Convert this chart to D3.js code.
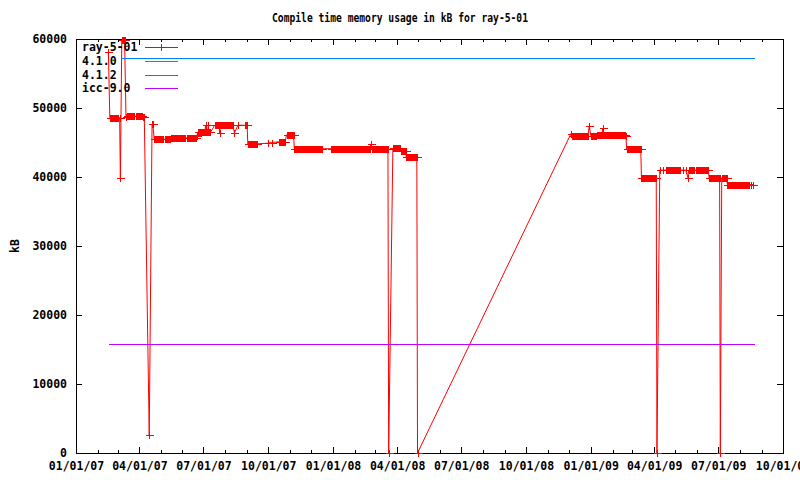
<!DOCTYPE html>
<html><head><meta charset="utf-8">
<script src="https://cdn.jsdelivr.net/npm/d3@7"></script>
<style>body{margin:0;background:#fff}svg{display:block}</style>
</head><body><svg id="c" width="800" height="480"></svg>
<script>
const chartTitle = "Compile time memory usage in kB for ray-5-01";
const yAxisLabel = "kB";
const seriesNames = ["ray-5-01", "4.1.0", "4.1.2", "icc-9.0"];
const seriesColors = ["#ff0000", "#00c000", "#0080ff", "#c000ff"];
const xDomain = ["2007-01-01", "2009-10-01"];
const yTicks = [0, 10000, 20000, 30000, 40000, 50000, 60000];

// ray-5-01: daily observations, stored as runs of consecutive days with the same value
const rayRunStart = ["2007-02-16","2007-02-18","2007-03-04","2007-03-05","2007-03-07","2007-03-09","2007-03-13","2007-03-14","2007-03-27",
  "2007-04-06","2007-04-15","2007-04-19","2007-04-22","2007-05-07","2007-05-16","2007-06-07","2007-06-22","2007-06-23",
  "2007-07-04","2007-07-05","2007-07-08","2007-07-09","2007-07-17","2007-07-24","2007-07-25","2007-08-14","2007-08-19","2007-08-29",
  "2007-09-02","2007-09-30","2007-10-06","2007-10-16","2007-10-27","2007-11-07","2007-12-29","2008-02-24","2008-02-25","2008-03-20",
  "2008-03-26","2008-04-06","2008-04-14","2008-04-30","2008-12-04","2008-12-05","2008-12-30","2009-01-01","2009-01-10",
  "2009-01-18","2009-01-19","2009-02-20","2009-02-21","2009-03-14","2009-04-05","2009-04-09","2009-04-13",
  "2009-04-18","2009-05-12","2009-05-16","2009-05-19","2009-05-20","2009-05-30","2009-06-18","2009-07-04","2009-07-06",
  "2009-07-14","2009-08-17","2009-08-20"];
const rayRunDays = [1,13,1,1,2,3,1,12,10,
  3,1,2,13,8,21,14,1,11,
  1,3,1,3,7,1,19,1,1,4,
  14,1,1,10,11,41,56,1,24,1,
  11,8,16,1,1,24,1,8,8,
  1,32,1,21,22,1,1,1,
  21,1,1,1,9,19,16,1,8,
  32,1,1];
const rayRunValue = [58100,48600,48600,39800,59800,59900,48700,48800,48800,
  48700,2600,47700,45500,45500,45700,45700,46000,46500,
  47500,46500,47500,46500,47500,46400,47500,46400,47500,47500,
  44800,44900,45000,45100,46100,44100,44100,44800,44100,0,
  44200,43800,42900,0,46300,46000,47400,46000,46100,
  47100,46100,46000,44000,39900,0,41000,41000,
  41000,41000,41000,39900,41000,41000,39900,0,39900,
  38900,38900,38900];

// Reference compilers: constant lines
const gcc410Dates = ["2007-03-06", "2009-08-22"];
const gcc410Values = [57200, 57200];
const gcc412Dates = ["2007-03-06", "2009-08-22"];
const gcc412Values = [57200, 57200];
const icc90Dates = ["2007-02-17", "2009-08-22"];
const icc90Values = [15800, 15800];

const parse = d3.utcParse("%Y-%m-%d");
const rayData = [];
rayRunStart.forEach((s, i) => {
  const start = parse(s);
  for (let k = 0; k < rayRunDays[i]; k++) {
    rayData.push({date: d3.utcDay.offset(start, k), value: rayRunValue[i]});
  }
});
const toPts = (ds, vs) => ds.map((d, i) => ({date: parse(d), value: vs[i]}));

const L = 76, R = 783, T = 39, B = 453;
const x = d3.scaleUtc().domain(xDomain.map(parse)).range([L, R]);
const y = d3.scaleLinear().domain([0, 60000]).range([B, T]);

const svg = d3.select("#c");
const font = "'DejaVu Sans Mono', 'Liberation Mono', monospace";

svg.append("text").attr("x", 400).attr("y", 18).attr("text-anchor", "middle")
  .attr("dominant-baseline", "middle").attr("font-family", font).attr("font-size", "12px")
  .attr("font-weight", "bold").attr("textLength", 256).attr("lengthAdjust", "spacingAndGlyphs").text(chartTitle);
svg.append("text").attr("transform", "translate(15,246) rotate(-90)").attr("text-anchor", "middle")
  .attr("dominant-baseline", "middle").attr("font-family", font).attr("font-size", "11.5px")
  .attr("font-weight", "bold").text(yAxisLabel);

const majorX = d3.utcMonth.every(3).range(parse("2007-01-01"), d3.utcDay.offset(parse("2009-10-01"), 1));
const minorX = d3.utcMonth.range(parse("2007-01-01"), parse("2009-10-02")).filter(d => d.getUTCMonth() % 3 !== 0);
const fmt = d3.utcFormat("%m/%d/%y");

function styleAxis(g, labels) {
  g.select(".domain").remove();
  g.selectAll("line").attr("stroke", "#000").attr("shape-rendering", "crispEdges");
  g.selectAll("text").attr("font-family", font).attr("font-size", "11.5px").attr("font-weight", "bold").attr("fill", "#000");
  if (!labels) g.selectAll("text").remove();
}
svg.append("g").attr("transform", `translate(0,${B})`)
  .call(d3.axisBottom(x).tickValues(majorX).tickFormat(fmt).tickSizeInner(-6).tickSizeOuter(0).tickPadding(9))
  .call(g => styleAxis(g, true));
svg.append("g").attr("transform", `translate(0,${B})`)
  .call(d3.axisBottom(x).tickValues(minorX).tickFormat("").tickSizeInner(-3).tickSizeOuter(0))
  .call(g => styleAxis(g, false));
svg.append("g").attr("transform", `translate(0,${T})`)
  .call(d3.axisTop(x).tickValues(majorX).tickFormat("").tickSizeInner(-6).tickSizeOuter(0))
  .call(g => styleAxis(g, false));
svg.append("g").attr("transform", `translate(0,${T})`)
  .call(d3.axisTop(x).tickValues(minorX).tickFormat("").tickSizeInner(-3).tickSizeOuter(0))
  .call(g => styleAxis(g, false));
svg.append("g").attr("transform", `translate(${L},0)`)
  .call(d3.axisLeft(y).tickValues(yTicks).tickFormat(d3.format("d")).tickSizeInner(-6).tickSizeOuter(0).tickPadding(9))
  .call(g => styleAxis(g, true));
svg.append("g").attr("transform", `translate(${R},0)`)
  .call(d3.axisRight(y).tickValues(yTicks).tickFormat("").tickSizeInner(-6).tickSizeOuter(0))
  .call(g => styleAxis(g, false));

svg.append("rect").attr("x", L + 0.5).attr("y", T + 0.5).attr("width", R - L).attr("height", B - T)
  .attr("fill", "none").attr("stroke", "#000").attr("shape-rendering", "crispEdges");

const line = d3.line().x(d => x(d.date)).y(d => y(d.value));
const flatLine = d3.line().x(d => Math.round(x(d.date))).y(d => Math.round(y(d.value)) + 0.5);
const plot = svg.append("g");
const others = [toPts(gcc410Dates, gcc410Values), toPts(gcc412Dates, gcc412Values), toPts(icc90Dates, icc90Values)];

plot.append("path").datum(rayData).attr("d", line).attr("fill", "none")
  .attr("stroke", seriesColors[0]).attr("stroke-width", 1);
const plus = (cx, cy) => `M${cx - 4},${cy}H${cx + 4}M${cx},${cy - 3.5}V${cy + 3.5}`;
plot.append("path").attr("d", rayData.map(d => plus(Math.round(x(d.date)) + 0.5, Math.round(y(d.value)) + 0.5)).join(""))
  .attr("fill", "none").attr("stroke", seriesColors[0]).attr("stroke-width", 1).attr("shape-rendering", "crispEdges");
others.forEach((pts, i) => {
  plot.append("path").datum(pts).attr("d", flatLine).attr("fill", "none")
    .attr("stroke", seriesColors[i + 1]).attr("stroke-width", 1).attr("shape-rendering", "crispEdges");
});

// legend
const legY = [47, 61, 75, 88];
const leg = svg.append("g");
seriesNames.forEach((name, i) => {
  leg.append("text").attr("x", 82).attr("y", legY[i]).attr("dominant-baseline", "middle")
    .attr("font-family", font).attr("font-size", "11.5px").attr("font-weight", "bold").text(name);
  leg.append("path").attr("d", `M145,${legY[i] + 0.5}H178`)
    .attr("stroke", seriesColors[i]).attr("stroke-width", 1).attr("fill", "none").attr("shape-rendering", "crispEdges");
});
leg.append("path").attr("d", plus(161.5, legY[0] + 0.5)).attr("stroke", seriesColors[0])
  .attr("fill", "none").attr("shape-rendering", "crispEdges");
</script></body></html>
